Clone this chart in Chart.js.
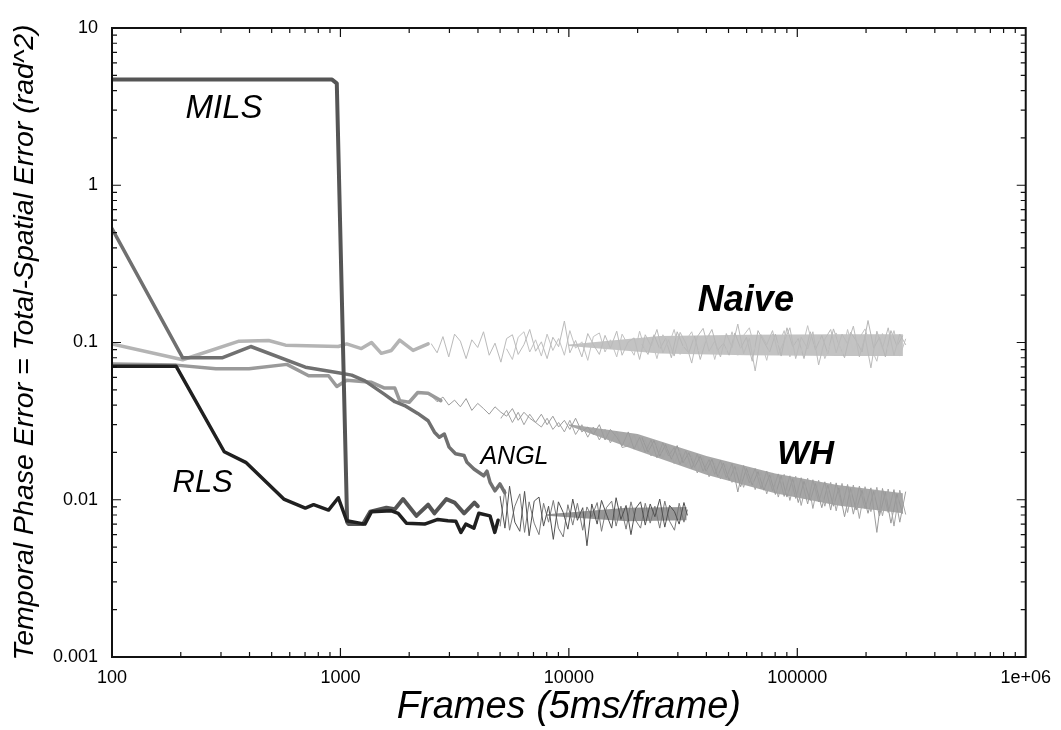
<!DOCTYPE html>
<html>
<head>
<meta charset="utf-8">
<script src="https://cdn.jsdelivr.net/npm/chart.js@4.4.1/dist/chart.umd.min.js"></script>
<style>
  html, body { margin: 0; padding: 0; background: #fff; }
  canvas { display: block; }
</style>
</head>
<body>
<canvas id="c" width="1061" height="730"></canvas>
<script>
// ---------------- data ----------------
const xTickValues = [100, 1000, 10000, 100000, 1000000];
const xTickLabels = ['100', '1000', '10000', '100000', '1e+06'];
const yTickValues = [0.001, 0.01, 0.1, 1, 10];
const yTickLabels = ['0.001', '0.01', '0.1', '1', '10'];
const minorMultipliers = [2, 3, 4, 5, 6, 7, 8, 9];

// thick (early) curves
const milsX = [100, 916, 964, 1070, 1085, 1256, 1350, 1590, 1730, 1880, 2150, 2420, 2580, 2910, 3160, 3480, 3860, 3990];
const milsY = [4.71, 4.71, 4.45, 0.0072, 0.0070, 0.0070, 0.0084, 0.0089, 0.0087, 0.0101, 0.0079, 0.0093, 0.0082, 0.0101, 0.0096, 0.0082, 0.0096, 0.0091];

const rlsX = [100, 191, 310, 385, 565, 702, 763, 887, 979, 1065, 1280, 1368, 1672, 1790, 1944, 2337, 2668, 2954, 3200, 3370, 3540, 3840, 4034, 4515, 4740, 4900];
const rlsY = [0.0706, 0.0706, 0.0202, 0.0173, 0.0101, 0.00885, 0.0093, 0.0086, 0.0103, 0.00735, 0.0070, 0.0084, 0.0085, 0.0082, 0.0071, 0.0070, 0.0075, 0.00735, 0.0073, 0.0062, 0.0070, 0.0066, 0.0082, 0.0079, 0.0062, 0.0074];

const anglX = [100, 204, 305, 405, 702, 979, 1120, 1280, 1560, 1730, 1910, 2180, 2420, 2580, 2710, 2850, 2990, 3190, 3480, 3580, 3840, 4240, 4380, 4520, 4750, 4990, 5240];
const anglY = [0.53, 0.0799, 0.080, 0.0943, 0.0697, 0.0642, 0.062, 0.057, 0.0468, 0.042, 0.0397, 0.0354, 0.0318, 0.0269, 0.025, 0.0262, 0.0216, 0.0196, 0.0191, 0.0173, 0.0157, 0.0142, 0.0152, 0.0129, 0.0114, 0.0126, 0.0111];

const naiveX = [100, 204, 360, 485, 575, 979, 1065, 1235, 1368, 1510, 1672, 1817, 2080, 2420];
const naiveY = [0.098, 0.0777, 0.102, 0.103, 0.0962, 0.0943, 0.098, 0.0915, 0.100, 0.0853, 0.089, 0.1035, 0.089, 0.098];

const whX = [100, 191, 285, 398, 583, 726, 887, 964, 1065, 1368, 1560, 1730, 1817, 2000, 2180, 2420, 2750];
const whY = [0.0731, 0.0718, 0.0681, 0.068, 0.0726, 0.0615, 0.0615, 0.0525, 0.0575, 0.0558, 0.0513, 0.0513, 0.0427, 0.0417, 0.0481, 0.0475, 0.0427];

// noisy (late) parts
const noiseX = [2500, 2650, 2810, 2980, 3160, 3350, 3550, 3760, 3990, 4230,
  4480, 4750, 5040, 5340, 5660, 6000, 6360, 6740, 7150, 7580,
  8030, 8510, 9020, 9560, 10100, 10700, 11400, 12100, 12800, 13600,
  14400, 15200, 16200, 17100, 18200, 19300, 20400, 21600, 22900, 24300,
  25800, 27300, 28900, 30700, 32500, 34500, 36500, 38700, 41100, 43500,
  46100, 48900, 51800, 54900, 58200, 61700, 65400, 69400, 73500, 77900,
  82600, 87600, 92800, 98400, 104000, 111000, 117000, 124000, 132000, 140000,
  148000, 157000, 166000, 176000, 187000, 198000, 210000, 223000, 236000, 250000,
  265000, 281000, 298000];
const noiseX2 = [20900, 22200, 23600, 25000, 26500, 28100, 29800, 31600, 33500, 35500,
  37600, 39900, 42300, 44800, 47500, 50300, 53300, 56500, 59900, 63500,
  67300, 71400, 75700, 80200, 85000, 90100, 95500, 101000, 107000, 114000,
  120000, 128000, 136000, 144000, 152000, 161000, 171000, 181000, 192000, 204000,
  216000, 229000, 243000, 257000, 273000, 289000];

const naiveNoiseA = [0.098, 0.086, 0.109, 0.081, 0.113, 0.102, 0.079, 0.104, 0.093, 0.117,
  0.083, 0.099, 0.075, 0.106, 0.112, 0.084, 0.097, 0.121, 0.088, 0.101,
  0.079, 0.108, 0.094, 0.137, 0.086, 0.103, 0.081, 0.114, 0.097, 0.084,
  0.111, 0.092, 0.118, 0.083, 0.101, 0.107, 0.078, 0.112, 0.095, 0.121,
  0.086, 0.104, 0.082, 0.116, 0.099, 0.074, 0.109, 0.123, 0.088, 0.102,
  0.081, 0.114, 0.093, 0.131, 0.085, 0.106, 0.066, 0.112, 0.097, 0.119,
  0.084, 0.102, 0.124, 0.079, 0.108, 0.091, 0.117, 0.072, 0.105, 0.121,
  0.086, 0.113, 0.098, 0.127, 0.081, 0.109, 0.069, 0.118, 0.092, 0.124,
  0.083, 0.113, 0.097];
const naiveNoiseB = [null, null, null, null, null, null, null, null, null, null,
  null, null, null, 0.091, 0.078, 0.108, 0.117, 0.087, 0.104, 0.082,
  0.113, 0.089, 0.106, 0.083, 0.119, 0.092, 0.101, 0.077, 0.109, 0.115,
  0.087, 0.104, 0.081, 0.113, 0.096, 0.083, 0.118, 0.089, 0.107, 0.079,
  0.112, 0.095, 0.121, 0.084, 0.103, 0.117, 0.087, 0.097, 0.112, 0.078,
  0.106, 0.088, 0.117, 0.083, 0.111, 0.124, 0.089, 0.101, 0.077, 0.113,
  0.096, 0.119, 0.081, 0.108, 0.087, 0.128, 0.094, 0.110, 0.079, 0.098,
  0.115, 0.083, 0.121, 0.088, 0.107, 0.122, 0.093, 0.076, 0.114, 0.089,
  0.119, 0.082, 0.105];
const naiveNoiseC = [0.097, 0.084, 0.112, 0.091, 0.106, 0.080, 0.117, 0.095, 0.086, 0.110,
  0.078, 0.104, 0.121, 0.089, 0.099, 0.083, 0.115, 0.092, 0.108, 0.076,
  0.119, 0.101, 0.087, 0.113, 0.082, 0.124, 0.094, 0.106, 0.079, 0.117,
  0.090, 0.111, 0.085, 0.122, 0.097, 0.080, 0.116, 0.103, 0.087, 0.138,
  0.092, 0.108, 0.081, 0.119, 0.095, 0.110];

const whNoiseA = [0.046, 0.042, 0.045, 0.040, 0.043, 0.039, 0.044, 0.037, 0.041, 0.038,
  0.035, 0.039, 0.036, 0.034, 0.038, 0.032, 0.036, 0.033, 0.031, 0.035,
  0.030, 0.034, 0.029, 0.032, 0.028, 0.033, 0.027, 0.029, 0.026, 0.030,
  0.024, 0.028, 0.025, 0.022, 0.027, 0.021, 0.025, 0.020, 0.024, 0.0185,
  0.023, 0.019, 0.0215, 0.0168, 0.0205, 0.0158, 0.0195, 0.0152, 0.018, 0.0145,
  0.0178, 0.0138, 0.017, 0.0112, 0.0165, 0.0128, 0.0158, 0.0118, 0.0152, 0.0114,
  0.0146, 0.0105, 0.0142, 0.0102, 0.0138, 0.0094, 0.0134, 0.0097, 0.013, 0.0086,
  0.0128, 0.0091, 0.0125, 0.0081, 0.0122, 0.0088, 0.0119, 0.0062, 0.0118, 0.0083,
  0.0116, 0.0072, 0.0112];
const whNoiseB = [null, null, null, null, null, null, null, null, null, null,
  null, null, 0.033, 0.037, 0.031, 0.036, 0.030, 0.035, 0.031, 0.029,
  0.033, 0.028, 0.031, 0.027, 0.032, 0.026, 0.030, 0.025, 0.029, 0.024,
  0.028, 0.023, 0.027, 0.0215, 0.022, 0.026, 0.0205, 0.024, 0.019, 0.023,
  0.0185, 0.022, 0.017, 0.0205, 0.0165, 0.019, 0.0148, 0.0185, 0.014, 0.017,
  0.0136, 0.0168, 0.0129, 0.0161, 0.012, 0.0157, 0.0116, 0.015, 0.0109, 0.0148,
  0.0104, 0.0145, 0.0099, 0.0141, 0.0092, 0.0137, 0.0088, 0.0133, 0.0091, 0.0129,
  0.0085, 0.0127, 0.0083, 0.0124, 0.0076, 0.0121, 0.0084, 0.012, 0.0079, 0.0117,
  0.0068, 0.0115, 0.0081];
const whNoiseC = [0.0248, 0.0201, 0.0238, 0.0189, 0.0224, 0.0181, 0.0221, 0.0172, 0.0199, 0.0161,
  0.0189, 0.0152, 0.0181, 0.0141, 0.0171, 0.0133, 0.0163, 0.0121, 0.0158, 0.0124,
  0.0151, 0.0115, 0.0144, 0.0108, 0.0142, 0.0104, 0.0136, 0.0096, 0.0131, 0.0099,
  0.0127, 0.0089, 0.0124, 0.0091, 0.0119, 0.0078, 0.0118, 0.0086, 0.0115, 0.0082,
  0.0113, 0.0079, 0.0112, 0.0071, 0.0109, 0.0082];

const lowNoiseX = [5000, 5250, 5500, 5800, 6100, 6400, 6700, 7050, 7400, 7750,
  8150, 8550, 9000, 9450, 9900, 10400, 10900, 11500, 12000, 12600,
  13300, 13900, 14600, 15400, 16100, 16900, 17800, 18700, 19600, 20600,
  21600, 22700, 23800, 25000, 26300, 27600, 29000, 30400, 31900, 33000];
const lowNoiseA = [0.0105, 0.0066, 0.0122, 0.0072, 0.0063, 0.0113, 0.0059, 0.0098, 0.0104, 0.0068,
  0.0091, 0.0056, 0.0097, 0.0083, 0.0065, 0.0101, 0.0074, 0.0089, 0.0051, 0.0094,
  0.0070, 0.0099, 0.0081, 0.0066, 0.0103, 0.0075, 0.0092, 0.0060, 0.0088, 0.0097,
  0.0069, 0.0094, 0.0078, 0.0101, 0.0067, 0.0092, 0.0084, 0.0070, 0.0096, 0.0080];
const lowNoiseB = [0.0068, 0.0116, 0.0064, 0.0091, 0.0109, 0.0062, 0.0097, 0.0071, 0.0060, 0.0095,
  0.0072, 0.0099, 0.0066, 0.0058, 0.0093, 0.0069, 0.0095, 0.0064, 0.0090, 0.0078,
  0.0096, 0.0063, 0.0089, 0.0098, 0.0068, 0.0091, 0.0065, 0.0097, 0.0074, 0.0066,
  0.0095, 0.0071, 0.0091, 0.0066, 0.0098, 0.0073, 0.0064, 0.0095, 0.0072, 0.0086];

// dense cores of the noisy bands
const naiveBandX = [10000, 25000, 60000, 150000, 290000];
const naiveBandHi = [0.097, 0.110, 0.112, 0.113, 0.113];
const naiveBandLo = [0.095, 0.085, 0.083, 0.082, 0.082];
const whBandX = [10000, 20000, 40000, 80000, 150000, 290000];
const whBandHi = [0.0302, 0.0262, 0.0190, 0.0147, 0.0124, 0.0110];
const whBandLo = [0.0296, 0.0205, 0.0144, 0.0110, 0.0092, 0.0082];
const lowBandX = [8000, 18000, 32800];
const lowBandHi = [0.0081, 0.0089, 0.0090];
const lowBandLo = [0.0079, 0.0073, 0.0074];

// ---------------- chart ----------------
const FONT = "'Liberation Sans', Arial, Helvetica, sans-serif";
const pts = (xs, ys) => xs.map((x, i) => ({ x: x, y: ys[i] }));

function line(data, color, width, order, extra) {
  return Object.assign({
    data: data, borderColor: color, backgroundColor: color, borderWidth: width,
    pointRadius: 0, showLine: true, tension: 0, fill: false, order: order,
    borderJoinStyle: 'round', borderCapStyle: 'round', spanGaps: false
  }, extra || {});
}

const datasets = [
  line(pts(naiveBandX, naiveBandHi), 'rgba(0,0,0,0)', 0, 12, { fill: '+1', backgroundColor: 'rgba(184,184,184,0.85)' }),
  line(pts(naiveBandX, naiveBandLo), 'rgba(0,0,0,0)', 0, 12),
  line(pts(whBandX, whBandHi), 'rgba(0,0,0,0)', 0, 12, { fill: '+1', backgroundColor: 'rgba(152,152,152,0.85)' }),
  line(pts(whBandX, whBandLo), 'rgba(0,0,0,0)', 0, 12),
  line(pts(lowBandX, lowBandHi), 'rgba(0,0,0,0)', 0, 12, { fill: '+1', backgroundColor: 'rgba(105,105,105,0.7)' }),
  line(pts(lowBandX, lowBandLo), 'rgba(0,0,0,0)', 0, 12),
  line(pts(noiseX, naiveNoiseA), '#bababa', 1, 10),
  line(pts(noiseX, naiveNoiseB), '#c2c2c2', 1, 10),
  line(pts(noiseX2, naiveNoiseC), '#b6b6b6', 1, 10),
  line(pts(noiseX, whNoiseA), '#9c9c9c', 1, 9),
  line(pts(noiseX, whNoiseB), '#a4a4a4', 1, 9),
  line(pts(noiseX2, whNoiseC), '#989898', 1, 9),
  line(pts(lowNoiseX, lowNoiseA), '#505050', 1, 8),
  line(pts(lowNoiseX, lowNoiseB), '#7a7a7a', 1, 8),
  line(pts(naiveX, naiveY), '#b4b4b4', 3.5, 5),
  line(pts(whX, whY), '#9a9a9a', 3.5, 4),
  line(pts(anglX, anglY), '#707070', 3.5, 3),
  line(pts(milsX, milsY), '#555555', 4, 2),
  line(pts(rlsX, rlsY), '#202020', 3.5, 1)
];

// curve names placed in data coordinates (left edge / baseline)
const curveNames = [
  { text: 'MILS',  x: 210,   y: 2.67,    font: 'italic 33px ' + FONT },
  { text: 'RLS',   x: 184,   y: 0.01125, font: 'italic 31px ' + FONT },
  { text: 'ANGL',  x: 4100,  y: 0.01694, font: 'italic 25px ' + FONT },
  { text: 'Naive', x: 36700, y: 0.1576,  font: 'italic bold 36px ' + FONT },
  { text: 'WH',    x: 81800, y: 0.01694, font: 'italic bold 34px ' + FONT }
];

const whiteBg = {
  id: 'whiteBg',
  beforeDraw(chart) {
    const ctx = chart.ctx;
    ctx.save(); ctx.fillStyle = '#fff'; ctx.fillRect(0, 0, chart.width, chart.height); ctx.restore();
  }
};

const frameAndTicks = {
  id: 'frameAndTicks',
  afterDraw(chart) {
    const { ctx, chartArea: a, scales: { x, y } } = chart;
    ctx.save();
    ctx.strokeStyle = '#111';
    ctx.lineWidth = 1.2;
    ctx.beginPath();
    const major = 9, minor = 5;
    xTickValues.forEach((d, i) => {
      const p = x.getPixelForValue(d);
      if (i > 0 && i < xTickValues.length - 1) {
        ctx.moveTo(p, a.bottom); ctx.lineTo(p, a.bottom - major);
        ctx.moveTo(p, a.top); ctx.lineTo(p, a.top + major);
      }
      if (i < xTickValues.length - 1) {
        minorMultipliers.forEach(m => {
          const q = x.getPixelForValue(d * m);
          ctx.moveTo(q, a.bottom); ctx.lineTo(q, a.bottom - minor);
          ctx.moveTo(q, a.top); ctx.lineTo(q, a.top + minor);
        });
      }
    });
    yTickValues.forEach((d, i) => {
      const p = y.getPixelForValue(d);
      if (i > 0 && i < yTickValues.length - 1) {
        ctx.moveTo(a.left, p); ctx.lineTo(a.left + major, p);
        ctx.moveTo(a.right, p); ctx.lineTo(a.right - major, p);
      }
      if (i < yTickValues.length - 1) {
        minorMultipliers.forEach(m => {
          const q = y.getPixelForValue(d * m);
          ctx.moveTo(a.left, q); ctx.lineTo(a.left + minor, q);
          ctx.moveTo(a.right, q); ctx.lineTo(a.right - minor, q);
        });
      }
    });
    ctx.stroke();
    ctx.lineWidth = 2;
    ctx.strokeRect(a.left, a.top, a.right - a.left, a.bottom - a.top);

    ctx.fillStyle = '#000';
    ctx.textAlign = 'left';
    ctx.textBaseline = 'alphabetic';
    curveNames.forEach(n => {
      ctx.font = n.font;
      ctx.fillText(n.text, x.getPixelForValue(n.x), y.getPixelForValue(n.y));
    });
    ctx.restore();
  }
};

new Chart(document.getElementById('c'), {
  type: 'scatter',
  data: { datasets: datasets },
  options: {
    responsive: false,
    animation: false,
    events: [],
    layout: { padding: { top: 28, right: 28, left: 0, bottom: 0 } },
    plugins: { legend: { display: false }, tooltip: { enabled: false } },
    scales: {
      x: {
        type: 'logarithmic', position: 'bottom', min: 100, max: 1000000,
        afterBuildTicks: s => { s.ticks = xTickValues.map(v => ({ value: v })); },
        afterFit: s => { s.height = 73; },
        grid: { display: false, drawTicks: false },
        border: { display: false },
        ticks: {
          autoSkip: false, maxRotation: 0, padding: 10, color: '#000',
          font: { family: FONT, size: 18 },
          callback: v => xTickLabels[xTickValues.indexOf(v)]
        },
        title: {
          display: true, text: 'Frames (5ms/frame)', color: '#000',
          font: { family: FONT, size: 38, style: 'italic' },
          padding: { top: 0, bottom: 0 }
        }
      },
      y: {
        type: 'logarithmic', position: 'left', min: 0.001, max: 10,
        afterBuildTicks: s => { s.ticks = yTickValues.map(v => ({ value: v })); },
        afterFit: s => { s.width = 112; },
        grid: { display: false, drawTicks: false },
        border: { display: false },
        ticks: {
          autoSkip: false, padding: 14, color: '#000',
          font: { family: FONT, size: 18 },
          callback: v => yTickLabels[yTickValues.indexOf(v)]
        },
        title: {
          display: true, text: 'Temporal Phase Error = Total-Spatial Error (rad^2)', color: '#000',
          font: { family: FONT, size: 28.5, style: 'italic' },
          padding: { top: 8, bottom: 0 }
        }
      }
    }
  },
  plugins: [whiteBg, frameAndTicks]
});
</script>
</body>
</html>
